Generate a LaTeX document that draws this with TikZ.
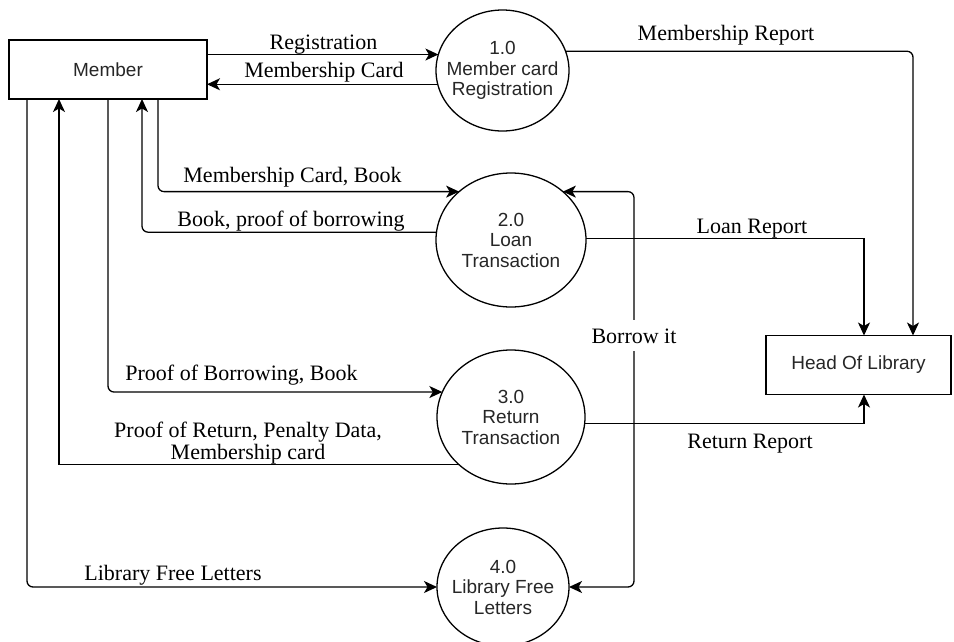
\documentclass[tikz,border=0pt]{standalone}
\usepackage{fontspec}
\setmainfont{Liberation Serif}
\setsansfont{Liberation Sans}
\usetikzlibrary{arrows.meta,shapes.geometric,calc}
\begin{document}
\begin{tikzpicture}[x=1pt,y=-1pt,
  line width=1.3pt,
  tip/.tip={Stealth[length=13pt,width=12pt,inset=3.5pt]},
  arr/.style={-tip},
  arrb/.style={tip-tip},
  ent/.style={draw, rectangle, inner sep=0pt, outer sep=0pt, minimum height=59pt},
  proc/.style={draw, ellipse, inner sep=0pt, outer sep=0pt},
  ptext/.style={font=\sffamily\fontsize{19}{20.5}\selectfont, text=black!85, align=center, inner sep=0pt},
  lbl/.style={font=\fontsize{22}{22}\selectfont, inner sep=0pt, anchor=base},
  lbl2/.style={font=\fontsize{22}{22}\selectfont, inner sep=0pt, align=center},
  rc/.style={rounded corners=6pt}
]
\useasboundingbox (0,0) rectangle (954,641);

% entities
\node[ent, minimum width=198pt] (member) at (108,69.5) {};
\node[ptext] (tmember) at (member) {Member};
\node[ent, minimum width=185pt] (head) at (858.5,365) {};
\node[ptext] (thead) at (head) {Head Of Library};

% processes
\node[proc, minimum width=133pt, minimum height=121pt] (c1) at (502.5,70.5) {};
\node[ptext] (t1) at (c1) {1.0\\Member card\\Registration};
\node[proc, minimum width=150pt, minimum height=134pt] (c2) at (511,240) {};
\node[ptext] (t2) at (c2) {2.0\\Loan\\Transaction};
\node[proc, minimum width=148pt, minimum height=134pt] (c3) at (511,417) {};
\node[ptext] (t3) at (c3) {3.0\\Return\\Transaction};
\node[proc, minimum width=132pt, minimum height=118pt] (c4) at (503,587) {};
\node[ptext] (t4) at (c4) {4.0\\Library Free\\Letters};

\coordinate (bx) at (634,337);

% flows
\draw[arr] (c1.166 -| member.east) -- (c1.166);
\draw[arr] (c1.192) -- (c1.192 -| member.east);
\draw[arr, rc] (c1.17) -| ([xshift=54.5pt]head.north);
\draw[arr, rc] ([xshift=50pt]member.south) |- (c2.137);
\draw[arr, rc] (c2.174) -| ([xshift=34pt]member.south);
\draw[arr] (c2.1) -| ([xshift=5.5pt]head.north);
\draw[arr, rc] (member.south) |- (c3.160);
\draw[arr] (c3.222) -| ([xshift=-49pt]member.south);
\draw[arr] (c3.355) -| ([xshift=5.5pt]head.south);
\draw[arr, rc] ([xshift=-81pt]member.south) |- (c4.west);
\draw[arrb, rc] (c2.43) -| (bx) |- (c4.east);

% labels
\node[lbl] (l1) at (323.5,49) {Registration};
\node[lbl] (l2) at (324,77) {Membership Card};
\node[lbl] (l3) at (726,40) {Membership Report};
\node[lbl] (l4) at (292.5,182) {Membership Card, Book};
\node[lbl] (l5) at (291,226) {Book, proof of borrowing};
\node[lbl] (l6) at (752,233) {Loan Report};
\node[lbl, fill=white, inner xsep=2pt, inner ysep=8pt] (l7) at ([yshift=-6pt]bx) {Borrow it};
\node[lbl] (l8) at (241.5,380) {Proof of Borrowing, Book};
\node[lbl2] (l9) at (248,443) {Proof of Return, Penalty Data,\\Membership card};
\node[lbl] (l10) at (750,448) {Return Report};
\node[lbl] (l11) at (173,580) {Library Free Letters};
\end{tikzpicture}
\end{document}
